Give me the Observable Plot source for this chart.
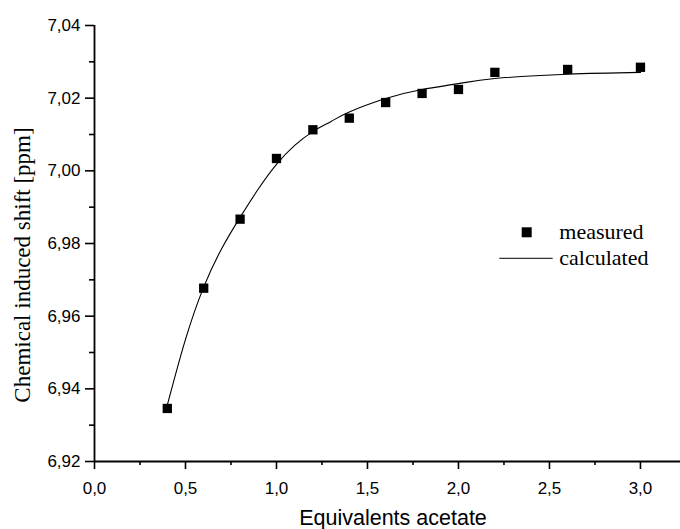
<!DOCTYPE html>
<html>
<head>
<meta charset="utf-8">
<script src="https://cdn.jsdelivr.net/npm/d3@7"></script>
<script src="https://cdn.jsdelivr.net/npm/@observablehq/plot@0.6"></script>
<style>
  html, body { margin: 0; padding: 0; background: #fff; }
</style>
</head>
<body>
<div id="chart"></div>
<script>
// Measured data points
const measuredX = [0.4, 0.6, 0.8, 1.0, 1.2, 1.4, 1.6, 1.8, 2.0, 2.2, 2.6, 3.0];
const measuredY = [6.9346, 6.9677, 6.9867, 7.0034, 7.0113, 7.0145, 7.0188, 7.0213, 7.0224, 7.0271, 7.0279, 7.0285];

// Calculated curve
const calcX = [0.4, 0.5, 0.6, 0.7, 0.8, 0.9, 1.0, 1.1, 1.2, 1.3, 1.4, 1.6, 1.8, 2.0, 2.2, 2.6, 3.0];
const calcY = [6.9355, 6.9536, 6.9680, 6.9787, 6.9872, 6.9950, 7.0018, 7.0070, 7.0108, 7.0136, 7.0162, 7.0199, 7.0224, 7.0240, 7.0254, 7.0266, 7.0271];

// Ticks
const xMajor = [0, 0.5, 1.0, 1.5, 2.0, 2.5, 3.0];
const xTickLabels = ["0,0", "0,5", "1,0", "1,5", "2,0", "2,5", "3,0"];
const xMinor = [0.25, 0.75, 1.25, 1.75, 2.25, 2.75];
const yMajor = [6.92, 6.94, 6.96, 6.98, 7.00, 7.02, 7.04];
const yTickLabels = ["6,92", "6,94", "6,96", "6,98", "7,00", "7,02", "7,04"];
const yMinor = [6.93, 6.95, 6.97, 6.99, 7.01, 7.03];

const xLabel = "Equivalents acetate";
const yLabel = "Chemical induced shift [ppm]";
const legendLabels = ["measured", "calculated"];

const measured = measuredX.map((x, i) => ({x, y: measuredY[i]}));
const calculated = calcX.map((x, i) => ({x, y: calcY[i]}));

const sans = "Liberation Sans, Arial, sans-serif";
const serif = "Liberation Serif, Times New Roman, serif";

function legendMark(index, scales, values, dimensions) {
  const {marginLeft, marginTop} = dimensions;
  const g = d3.create("svg:g")
    .attr("font-family", serif).attr("font-size", 22).attr("text-anchor", "start");
  const ox = marginLeft, oy = marginTop;
  g.append("rect")
    .attr("x", ox + 427.7).attr("y", oy + 202.3)
    .attr("width", 10).attr("height", 10).attr("fill", "black");
  g.append("text")
    .attr("x", ox + 465.3).attr("y", oy + 214.3)
    .attr("text-anchor", "start")
    .attr("fill", "black").text(legendLabels[0]);
  g.append("line")
    .attr("x1", ox + 405.3).attr("x2", ox + 458.7)
    .attr("y1", oy + 233.3).attr("y2", oy + 233.3)
    .attr("stroke", "#333").attr("stroke-width", 1.2);
  g.append("text")
    .attr("x", ox + 465.3).attr("y", oy + 240)
    .attr("text-anchor", "start")
    .attr("fill", "black").text(legendLabels[1]);
  return g.node();
}

const chart = Plot.plot({
  width: 680,
  height: 529,
  marginLeft: 94,
  marginRight: 0,
  marginTop: 25,
  marginBottom: 68,
  style: {fontFamily: sans, fontSize: "17px", color: "black", background: "white"},
  x: {domain: [0, 3.22]},
  y: {domain: [6.92, 7.04]},
  marks: [
    Plot.axisX({ticks: xMajor, tickSize: 8, tickPadding: 12, strokeWidth: 1.6,
      tickFormat: d => xTickLabels[xMajor.indexOf(d)], fontSize: 17, label: null}),
    Plot.axisX({ticks: xMinor, tickSize: 4, strokeWidth: 1.6, tickFormat: () => "", label: null}),
    Plot.axisY({ticks: yMajor, tickSize: 9, tickPadding: 5, strokeWidth: 1.6,
      tickFormat: d => yTickLabels[yMajor.indexOf(d)], fontSize: 17, label: null}),
    Plot.axisY({ticks: yMinor, tickSize: 5, strokeWidth: 1.6, tickFormat: () => "", label: null}),
    Plot.ruleY([6.92], {strokeWidth: 1.8}),
    Plot.ruleX([0], {y1: 6.92, y2: 7.04, strokeWidth: 1.8}),
    Plot.line(calculated, {x: "x", y: "y", curve: "natural", stroke: "black", strokeWidth: 1.1}),
    Plot.dot(measured, {x: "x", y: "y", symbol: "square", r: 5.25, fill: "black", stroke: "none"}),
    Plot.text([yLabel], {frameAnchor: "left", rotate: -90, dx: -72, dy: 21.5,
      fontFamily: serif, fontSize: 23, text: d => d, textAnchor: "middle", lineAnchor: "middle"}),
    Plot.text([xLabel], {frameAnchor: "bottom", dx: 5.5, dy: 63, 
      fontFamily: sans, fontSize: 21.5, text: d => d, textAnchor: "middle", lineAnchor: "bottom"}),
    legendMark
  ]
});

document.getElementById("chart").appendChild(chart);
</script>
</body>
</html>
